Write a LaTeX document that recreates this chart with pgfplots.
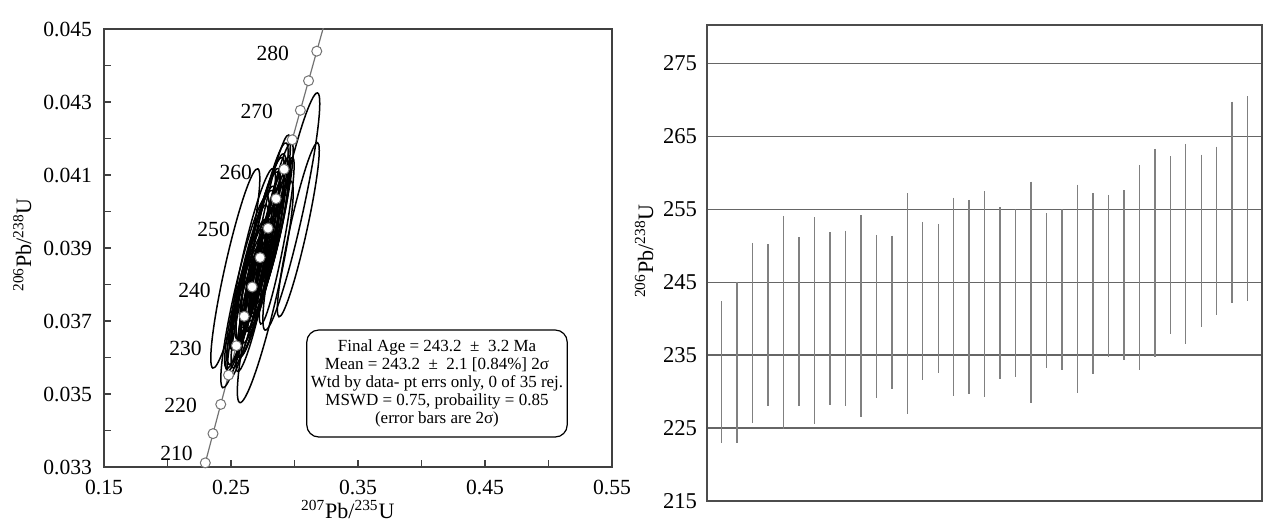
\documentclass[border=0pt]{standalone}
\usepackage{fontspec}
\setmainfont{Liberation Serif}
\usepackage{pgfplots}
\usepackage{pgfplotstable}
\pgfplotsset{compat=1.18}

% concordia points (t in Ma, 207Pb/235U, 206Pb/238U)
\pgfplotstableread{
t x y
200 0.21771 0.031511
210 0.22976 0.033113
215 0.23583 0.033914
220 0.24193 0.034716
225 0.24806 0.035519
230 0.25422 0.036323
235 0.26041 0.037127
240 0.26664 0.037932
245 0.27289 0.038737
250 0.27917 0.039543
255 0.28549 0.040350
260 0.29183 0.041157
265 0.29821 0.041965
270 0.30462 0.042773
275 0.31106 0.043582
280 0.31753 0.044392
290 0.33057 0.046013
}\concordia

% 206Pb/238U ages with 2 sigma range
\pgfplotstableread{
n lo hi
1 222.9 242.4
2 222.9 245.1
3 225.7 250.4
4 228.0 250.2
5 224.9 254.1
6 228.0 251.2
7 225.5 253.9
8 228.2 251.9
9 228.0 252.1
10 226.5 254.2
11 229.1 251.5
12 230.4 251.4
13 227.0 257.2
14 231.6 253.3
15 232.5 253.0
16 229.4 256.6
17 229.7 256.3
18 229.3 257.5
19 231.8 255.3
20 232.0 255.0
21 228.5 258.8
22 233.2 254.5
23 233.0 255.0
24 229.8 258.4
25 232.4 257.2
26 234.7 257.0
27 234.4 257.6
28 233.0 261.1
29 234.8 263.3
30 237.9 262.3
31 236.6 264.0
32 238.9 262.5
33 240.5 263.6
34 242.1 269.8
35 242.5 270.5
}\ages

% error ellipse: center x, center y, 2sigma x, 2sigma y, rho
\newcommand\ellip[5]{%
  \pgfmathsetmacro\elluy{#5*#4}%
  \pgfmathsetmacro\ellvy{#4*sqrt(1-(#5)^2)}%
  \edef\elltmp{\noexpand\pgfplotsextra{%
    \noexpand\begin{pgfscope}%
    \noexpand\pgfsetlinewidth{0.75pt}%
    \noexpand\pgfsetstrokecolor{black}%
    \noexpand\pgfpathellipse{\noexpand\pgfplotspointaxisxy{#1}{#2}}%
      {\noexpand\pgfplotspointaxisdirectionxy{#3}{\elluy}}%
      {\noexpand\pgfplotspointaxisdirectionxy{0}{\ellvy}}%
    \noexpand\pgfusepath{stroke}%
    \noexpand\end{pgfscope}}}%
  \elltmp}

\begin{document}
\begin{tikzpicture}
\useasboundingbox (0,0) rectangle (631.5pt,261pt);

\begin{axis}[
  at={(52pt,27.5pt)}, anchor=south west,
  scale only axis, width=254pt, height=219pt,
  xmin=0.15, xmax=0.55, ymin=0.033, ymax=0.045,
  scaled ticks=false,
  xtick={0.15,0.25,0.35,0.45,0.55},
  xticklabels={0.15,0.25,0.35,0.45,0.55},
  minor xtick={0.2,0.3,0.4,0.5},
  ytick={0.033,0.035,0.037,0.039,0.041,0.043,0.045},
  yticklabels={0.033,0.035,0.037,0.039,0.041,0.043,0.045},
  minor ytick={0.034,0.036,0.038,0.040,0.042,0.044},
  tick align=inside, tick pos=left,
  major tick length=3.5pt, minor tick length=3.5pt,
  tick style={black!75, line width=0.8pt},
  axis line style={black!75, line width=1pt},
  tick label style={font=\fontsize{10.8}{12}\selectfont},
  yticklabel style={xshift=-2.5pt},
  xticklabel style={yshift=-3pt},
  label style={font=\fontsize{11}{13}\selectfont},
  xlabel={\textsuperscript{207}Pb/\textsuperscript{235}U},
  ylabel={\textsuperscript{206}Pb/\textsuperscript{238}U},
  xlabel style={at={(axis description cs:0.48,-0.098)}, anchor=center},
  ylabel style={at={(axis description cs:-0.161,0.507)}, anchor=center},
]
% concordia curve
\addplot[black!55, line width=0.6pt] table[x=x, y=y] {\concordia};

% outer ellipses
\ellip{0.2534}{0.03844}{0.0193}{0.00275}{0.90}
\ellip{0.2975}{0.04000}{0.0224}{0.00327}{0.91}
\ellip{0.3030}{0.03950}{0.0165}{0.00240}{0.91}
\ellip{0.2800}{0.03940}{0.0168}{0.00270}{0.90}
\ellip{0.2860}{0.03920}{0.0137}{0.00230}{0.90}
\ellip{0.2610}{0.03780}{0.0190}{0.00264}{0.90}
\ellip{0.2770}{0.03780}{0.0220}{0.00305}{0.90}
\ellip{0.2620}{0.03740}{0.0150}{0.00200}{0.88}
% core ellipses
\ellip{0.2590}{0.0373}{0.013}{0.0017}{0.88}
\ellip{0.2660}{0.0372}{0.012}{0.0016}{0.88}
\ellip{0.2640}{0.0375}{0.014}{0.0018}{0.88}
\ellip{0.2600}{0.0376}{0.015}{0.0019}{0.88}
\ellip{0.2690}{0.0377}{0.013}{0.0017}{0.89}
\ellip{0.2630}{0.0378}{0.016}{0.0020}{0.88}
\ellip{0.2690}{0.0379}{0.014}{0.0019}{0.88}
\ellip{0.2650}{0.0380}{0.015}{0.0018}{0.89}
\ellip{0.2710}{0.0381}{0.016}{0.0021}{0.88}
\ellip{0.2650}{0.0382}{0.014}{0.0020}{0.89}
\ellip{0.2730}{0.0383}{0.015}{0.0019}{0.88}
\ellip{0.2670}{0.0384}{0.017}{0.0022}{0.88}
\ellip{0.2740}{0.0385}{0.014}{0.0018}{0.89}
\ellip{0.2690}{0.0386}{0.016}{0.0021}{0.88}
\ellip{0.2760}{0.0387}{0.015}{0.0020}{0.88}
\ellip{0.2670}{0.0387}{0.018}{0.0025}{0.89}
\ellip{0.2710}{0.0388}{0.017}{0.0023}{0.89}
\ellip{0.2780}{0.0389}{0.014}{0.0019}{0.88}
\ellip{0.2730}{0.0390}{0.016}{0.0022}{0.88}
\ellip{0.2800}{0.0391}{0.015}{0.0020}{0.89}
\ellip{0.2750}{0.0392}{0.017}{0.0023}{0.88}
\ellip{0.2810}{0.0393}{0.015}{0.0021}{0.88}
\ellip{0.2770}{0.0394}{0.016}{0.0022}{0.89}
\ellip{0.2830}{0.0395}{0.014}{0.0020}{0.88}
\ellip{0.2790}{0.0396}{0.016}{0.0023}{0.88}
\ellip{0.2840}{0.0397}{0.015}{0.0022}{0.89}

% concordia age markers
\addplot[only marks, mark=*, mark size=2.5pt,
  mark options={fill=white, draw=black!55, line width=0.5pt},
  skip coords between index={0}{1}, skip coords between index={16}{17}]
  table[x=x, y=y] {\concordia};

\begin{scope}[font=\fontsize{10.8}{12}\selectfont, inner sep=0pt]
\node[anchor=east] at (axis cs:0.2202,0.03336) {210};
\node[anchor=east] at (axis cs:0.2234,0.03468) {220};
\node[anchor=east] at (axis cs:0.2273,0.03626) {230};
\node[anchor=east] at (axis cs:0.2344,0.03785) {240};
\node[anchor=east] at (axis cs:0.2494,0.03952) {250};
\node[anchor=east] at (axis cs:0.2668,0.04108) {260};
\node[anchor=east] at (axis cs:0.2834,0.04275) {270};
\node[anchor=east] at (axis cs:0.2960,0.04434) {280};
\end{scope}

\node[draw=black, rounded corners=6pt, line width=0.6pt, align=center,
  font=\fontsize{8.5}{9}\selectfont, minimum width=130pt, minimum height=53.5pt,
  inner sep=2pt] at (rel axis cs:0.6555,0.1906)
  {Final Age = 243.2 ~±~ 3.2 Ma\\
   Mean = 243.2 ~±~ 2.1 [0.84\%] 2σ\\
   Wtd by data- pt errs only, 0 of 35 rej.\\
   MSWD = 0.75, probaility = 0.85\\
   (error bars are 2σ)};

\node[anchor=base east, inner sep=0pt, font=\fontsize{8.5}{10}\selectfont]
  at (rel axis cs:0.986,1.0205) {data-point error ellipses are 2σ};
\end{axis}

\begin{axis}[
  at={(353.5pt,10.5pt)}, anchor=south west,
  scale only axis, width=277.5pt, height=238pt,
  xmin=0.05, xmax=35.93, ymin=215, ymax=280.3,
  xtick=\empty,
  ytick={215,225,235,245,255,265,275},
  yticklabels={215,225,235,245,255,265,275},
  major tick length=0pt,
  ymajorgrids,
  grid style={black!60, line width=0.8pt},
  axis line style={black!70, line width=1pt},
  tick label style={font=\fontsize{11.3}{13}\selectfont},
  yticklabel style={xshift=-1.5pt},
  label style={font=\fontsize{11}{13}\selectfont},
  ylabel={\textsuperscript{206}Pb/\textsuperscript{238}U},
  ylabel style={at={(axis description cs:-0.1135,0.525)}, anchor=center},
]
\addplot[draw=none, mark=none,
  error bars/.cd, y dir=minus, y explicit, error mark=none,
  error bar style={black!50, line width=0.7pt}]
  table[x=n, y=hi, y error minus expr=\thisrow{hi}-\thisrow{lo}] {\ages};

\node[anchor=base east, inner sep=0pt, font=\fontsize{8.5}{10}\selectfont]
  at (rel axis cs:0.991,1.0147) {data-point error ellipses are 2σ};
\end{axis}
\end{tikzpicture}
\end{document}
